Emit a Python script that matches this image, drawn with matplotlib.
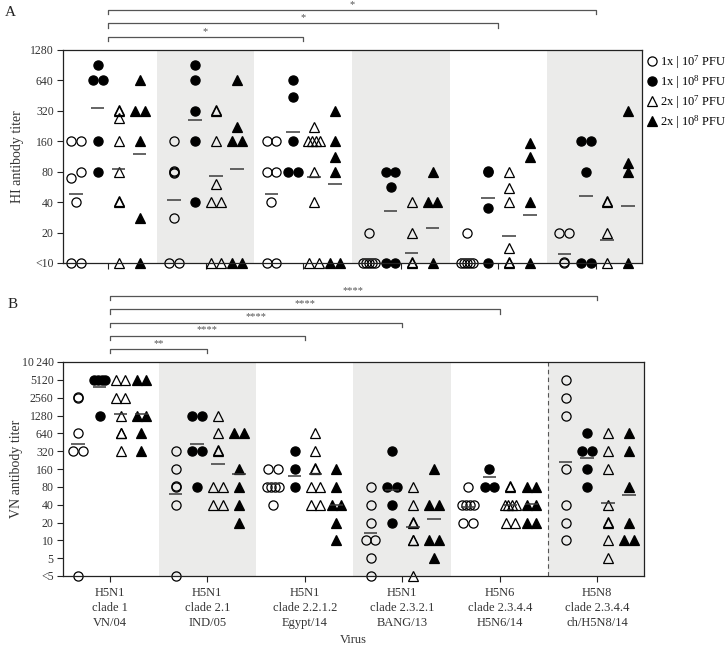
import numpy as np
import matplotlib
matplotlib.use('Agg')
import matplotlib.pyplot as plt
from matplotlib.lines import Line2D
from matplotlib.ticker import NullLocator
import matplotlib.transforms as mtrans

plt.rcParams['font.family'] = ['Liberation Serif', 'DejaVu Serif']
plt.rcParams['mathtext.fontset'] = 'custom'
plt.rcParams['mathtext.rm'] = 'Liberation Serif'
plt.rcParams['mathtext.default'] = 'regular'

# ---------------- data ----------------
viruses = ['H5N1\nclade 1\nVN/04', 'H5N1\nclade 2.1\nIND/05',
           'H5N1\nclade 2.2.1.2\nEgypt/14', 'H5N1\nclade 2.3.2.1\nBANG/13',
           'H5N6\nclade 2.3.4.4\nH5N6/14', 'H5N8\nclade 2.3.4.4\nch/H5N8/14']
series_labels = [r'1x | 10$^7$ PFU', r'1x | 10$^8$ PFU',
                 r'2x | 10$^7$ PFU', r'2x | 10$^8$ PFU']

hi_ticks = [10, 20, 40, 80, 160, 320, 640, 1280]
hi_ticklabels = ['<10', '20', '40', '80', '160', '320', '640', '1280']
vn_ticks = [2.5, 5, 10, 20, 40, 80, 160, 320, 640, 1280, 2560, 5120, 10240]
vn_ticklabels = ['<5', '5', '10', '20', '40', '80', '160', '320', '640',
                 '1280', '2560', '5120', '10\u2009240']

# HI titers (<10 shown as 10)
hi_1x_1e7 = [[160, 160, 80, 70, 40, 10, 10],
             [160, 80, 82, 78, 28, 10, 10],
             [160, 160, 80, 80, 40, 10, 10],
             [20, 10, 10, 10, 10, 10],
             [20, 10, 10, 10, 10, 10],
             [20, 20, 10, 10.3]]
hi_1x_1e8 = [[905, 640, 640, 160, 80],
             [905, 640, 320, 160, 40],
             [640, 443, 160, 80, 80],
             [80, 80, 56, 10, 10],
             [80, 82, 35, 10],
             [160, 160, 80, 10, 10]]
hi_2x_1e7 = [[320, 330, 275, 160, 80, 40, 41, 10],
             [320, 330, 160, 60, 40, 40, 10, 10],
             [223, 160, 160, 160, 160, 80, 40, 10, 10],
             [40, 20, 10, 10.3],
             [80, 55, 40, 14, 10, 10.3],
             [40, 41, 20, 10]]
hi_2x_1e8 = [[640, 320, 320, 160, 28, 10],
             [640, 223, 160, 160, 10, 10],
             [320, 160, 112, 80, 10, 10],
             [80, 40, 40, 10],
             [154, 112, 40, 10],
             [320, 97, 80, 10]]
hi_gmt = [[48, 42, 48, 11, 11, 12.2],
          [342, 260, 198, 32.5, 44, 46],
          [86, 72, 71, 12.6, 18.5, 17],
          [120, 86, 60, 22.3, 30, 37]]

# VN titers (<5 shown as 2.5)
vn_1x_1e7 = [[2560, 2600, 640, 320, 320, 2.5],
             [320, 160, 80, 82, 40, 2.5],
             [160, 160, 80, 80, 80, 80, 40],
             [80, 40, 20, 10, 10, 5, 2.5],
             [80, 40, 40, 40, 40, 20, 20],
             [5120, 2560, 1280, 160, 40, 20, 10]]
vn_1x_1e8 = [[5120, 5120, 5120, 5120, 1280],
             [1280, 1280, 320, 320, 80],
             [320, 160, 80],
             [320, 80, 80, 40, 20],
             [160, 80, 80],
             [640, 320, 320, 160, 80]]
vn_2x_1e7 = [[5120, 5120, 2560, 2560, 1280, 640, 660, 320],
             [1280, 640, 320, 330, 80, 80, 40, 40],
             [640, 320, 160, 165, 80, 80, 40, 40],
             [80, 40, 20, 20.6, 10, 10.3, 2.5],
             [80, 82, 40, 40, 40, 40, 20, 20],
             [640, 320, 160, 40, 20, 20.6, 10, 5]]
vn_2x_1e8 = [[5120, 5120, 1280, 1280, 640, 320],
             [640, 640, 160, 80, 40, 20],
             [160, 80, 40, 40, 20, 10],
             [160, 40, 40, 10, 10, 5],
             [80, 80, 40, 40, 20, 20],
             [640, 320, 80, 20, 10, 10]]
vn_gmt = [[431, 60, 88, 13.5, 36, 213],
          [3950, 431, 122, 70, 118, 244],
          [1380, 193, 130, 17, 40, 43],
          [1370, 130, 40, 23, 41, 59]]

hi_brackets = [(5, '*'), (4, '*'), (2, '*')]
vn_brackets = [(5, '****'), (4, '****'), (3, '****'), (2, '****'), (1, '**')]

# ---------------- styling ----------------
offsets = [-0.325, -0.105, 0.11, 0.325]
styles = [dict(marker='o', mfc='none', mec='black', ms=6.6, mew=0.9),
          dict(marker='o', mfc='black', mec='black', ms=6.6, mew=0.9),
          dict(marker='^', mfc='none', mec='black', ms=7.0, mew=0.9),
          dict(marker='^', mfc='black', mec='black', ms=7.0, mew=0.9)]
shade = '#ebebea'
ink = '#222222'


def spread(vals, center, dx=0.1, maxw=0.12):
    vals = np.asarray(vals, float)
    lv = np.log2(vals)
    order = np.argsort(-lv, kind='stable')
    xs = np.zeros(len(vals))
    rows = []
    for i in order:
        if rows and (lv[rows[-1][-1][-1]] - lv[i]) <= 0.2:
            row = rows[-1]
            d = lv[row[-1][-1]] - lv[i]
            if 1e-9 < d < 0.06:
                row[-1].append(i)
            else:
                row.append([i])
        else:
            rows.append([[i]])
    for row in rows:
        row = row[::-1]
        n = len(row)
        step = dx if n <= 1 else min(dx, maxw / (n - 1))
        for k, slot in enumerate(row):
            for i in slot:
                xs[i] = center + (k - (n - 1) / 2) * step
    return xs


def draw_panel(ax, series, gmts, ticks, ticklabels, ylim, xlim, dashed=False):
    ax.set_yscale('log', base=2)
    for i in (1, 3, 5):
        ax.axvspan(i - 0.5, i + 0.5, color=shade, zorder=0, lw=0)
    if dashed:
        ax.axvline(4.5, color='#555555', lw=0.8, ls=(0, (4, 3)), zorder=1)
    for s, (data, st) in enumerate(zip(series, styles)):
        for g, vals in enumerate(data):
            c = g + offsets[s]
            xs = spread(vals, c)
            ax.plot(xs, vals, ls='none', zorder=3, clip_on=False, **st)
            m = gmts[s][g]
            ax.plot([c - 0.07, c + 0.07], [m, m], color='#3a3a3a', lw=1.1,
                    zorder=4, solid_capstyle='butt')
    ax.set_ylim(*ylim)
    ax.set_xlim(*xlim)
    ax.set_yticks(ticks)
    ax.set_yticklabels(ticklabels)
    ax.yaxis.set_minor_locator(NullLocator())
    ax.set_xticks(range(6))
    for sp in ax.spines.values():
        sp.set_color(ink)
        sp.set_linewidth(0.9)
        sp.set_zorder(5)
    ax.tick_params(direction='out', length=4.5, width=0.8, color=ink,
                   labelcolor='#333333', labelsize=8.5)
    ax.tick_params(axis='y', pad=2.2)


def draw_brackets(ax, brackets, y0, dy, tick):
    tr = mtrans.blended_transform_factory(ax.transData, ax.transAxes)
    n = len(brackets)
    for k, (end, lab) in enumerate(brackets):
        y = y0 + (n - 1 - k) * dy
        ax.plot([0, 0, end, end], [y - tick, y, y, y - tick], transform=tr,
                color='#555555', lw=0.9, clip_on=False)
        ax.text(end / 2, y + 0.006, lab, transform=tr, ha='center', va='bottom',
                fontsize=7.5, color='#555555')


fig = plt.figure(figsize=(7.28, 6.47), dpi=100)
ax1 = fig.add_axes([63 / 728, 1 - 263 / 647, 579 / 728, 213 / 647])
ax2 = fig.add_axes([63 / 728, 1 - 576 / 647, 581 / 728, 214 / 647])

draw_panel(ax1, [hi_1x_1e7, hi_1x_1e8, hi_2x_1e7, hi_2x_1e8], hi_gmt,
           hi_ticks, hi_ticklabels, (10, 1280), (-0.46, 5.47))
ax1.set_xticklabels([])
draw_panel(ax2, [vn_1x_1e7, vn_1x_1e8, vn_2x_1e7, vn_2x_1e8], vn_gmt,
           vn_ticks, vn_ticklabels, (2.5, 10240), (-0.48, 5.48), dashed=True)
ax2.set_xticklabels(viruses, fontsize=9, linespacing=1.35, color='#333333')

draw_brackets(ax1, hi_brackets, 1.061, 0.0635, 0.02)
draw_brackets(ax2, vn_brackets, 1.061, 0.0617, 0.02)

ax1.set_ylabel('HI antibody titer', fontsize=10, color='#333333')
ax1.yaxis.set_label_coords(-0.068, 0.5)
ax2.set_ylabel('VN antibody titer', fontsize=10, color='#333333')
ax2.yaxis.set_label_coords(-0.068, 0.5)
fig.text(353 / 728, 1 - 640 / 647, 'Virus', ha='center', va='center',
         fontsize=9, color='#333333')
fig.text(5 / 728, 1 - 12 / 647, 'A', fontsize=11, va='center', color='#222222')
fig.text(8 / 728, 1 - 305 / 647, 'B', fontsize=11, va='center', color='#222222')

handles = [Line2D([], [], ls='none', **st) for st in styles]
ax1.legend(handles, series_labels, loc='upper left', bbox_to_anchor=(1.01, 0.985),
           frameon=False, handlelength=0.7, handletextpad=0.3, labelspacing=0.2,
           fontsize=9, borderaxespad=0, borderpad=0)

fig.savefig('out.png', dpi=100, facecolor='white')
